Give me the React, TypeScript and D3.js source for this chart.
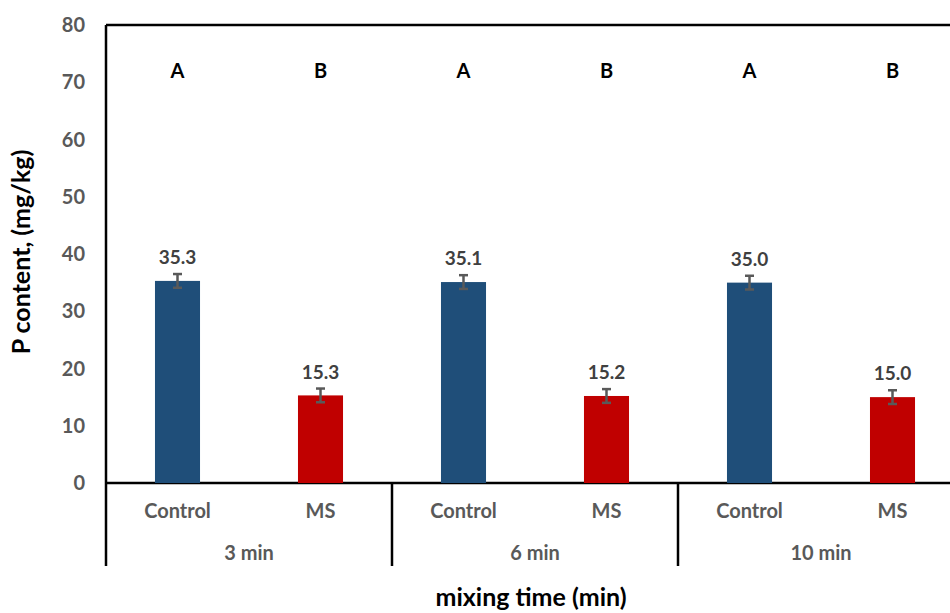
import React from "react";
import * as d3 from "d3";

const groups = ["3 min", "6 min", "10 min"];
const treatments = ["Control", "MS"];
const controlValues = [35.3, 35.1, 35.0];
const msValues = [15.3, 15.2, 15.0];
const controlErr = [1.2, 1.2, 1.2];
const msErr = [1.2, 1.2, 1.2];
const letters = ["A", "B", "A", "B", "A", "B"];
const letterY = 72;
const yTicks = [0, 10, 20, 30, 40, 50, 60, 70, 80];

const W = 950;
const H = 613;
const left = 106;
const top = 25;
const bottom = 483;
const right = 964;
const font = "Lato, 'Open Sans', sans-serif";
const gray = "#595959";

function App() {
  const rows = groups.flatMap((g, i) => [
    { key: `${g}-Control`, group: g, t: treatments[0], v: controlValues[i], e: controlErr[i], color: "#1F4E79" },
    { key: `${g}-MS`, group: g, t: treatments[1], v: msValues[i], e: msErr[i], color: "#C00000" },
  ]);

  const x = d3.scaleBand().domain(rows.map((r) => r.key)).range([left, right]).paddingInner(0.685).paddingOuter(0.3425);
  const xCat = d3.scaleBand().domain(rows.map((r) => r.key)).range([left, right]);
  const xGroup = d3.scaleBand().domain(groups).range([left, right]);
  const y = d3.scaleLinear().domain([0, 80]).range([bottom, top]);

  return (
    <svg width={W} height={H} style={{ display: "block", position: "absolute", left: 0, top: 0 }} fontFamily={font}>
      <rect width={W} height={H} fill="#fff" />
      {/* frame */}
      <line x1={left} x2={right} y1={top} y2={top} stroke="#000" strokeWidth={2.5} />
      <line x1={left} x2={left} y1={top} y2={566} stroke="#000" strokeWidth={2.5} />
      <line x1={left} x2={right} y1={bottom} y2={bottom} stroke="#000" strokeWidth={2.5} />
      {groups.slice(1).map((g) => (
        <line key={g} x1={xGroup(g)} x2={xGroup(g)} y1={bottom} y2={566} stroke="#000" strokeWidth={2.5} />
      ))}
      {/* y ticks */}
      {yTicks.map((t) => (
        <text key={t} x={85} y={y(t)} dy="0.35em" textAnchor="end" fontSize={20} fontWeight="bold" fill={gray}>
          {t}
        </text>
      ))}
      {/* bars */}
      {rows.map((r, i) => {
        const cx = x(r.key)! + x.bandwidth() / 2;
        return (
          <g key={r.key}>
            <rect x={x(r.key)} y={y(r.v)} width={x.bandwidth()} height={y(0) - y(r.v)} fill={r.color} />
            <line x1={cx} x2={cx} y1={y(r.v + r.e)} y2={y(r.v - r.e)} stroke={gray} strokeWidth={2.5} />
            <line x1={cx - 4.5} x2={cx + 4.5} y1={y(r.v + r.e)} y2={y(r.v + r.e)} stroke={gray} strokeWidth={2.5} />
            <line x1={cx - 4.5} x2={cx + 4.5} y1={y(r.v - r.e)} y2={y(r.v - r.e)} stroke={gray} strokeWidth={2.5} />
            <text x={cx} y={y(r.v + r.e) - 10} textAnchor="middle" fontSize={19} fontWeight="bold" fill="#404040">
              {r.v.toFixed(1)}
            </text>
            <text x={cx} y={y(letterY)} dy="0.35em" textAnchor="middle" fontSize={20} fontWeight="bold" fill="#000">
              {letters[i]}
            </text>
            <text x={xCat(r.key)! + xCat.bandwidth() / 2} y={511} dy="0.35em" textAnchor="middle" fontSize={20} fontWeight="bold" fill={gray}>
              {r.t}
            </text>
          </g>
        );
      })}
      {groups.map((g) => (
        <text key={g} x={xGroup(g)! + xGroup.bandwidth() / 2} y={553} dy="0.35em" textAnchor="middle" fontSize={20} fontWeight="bold" fill={gray}>
          {g}
        </text>
      ))}
      <text x={531} y={597} dy="0.35em" textAnchor="middle" fontSize={25} fontWeight="bold" fill="#000">
        mixing time (min)
      </text>
      <text transform={`translate(21,252) rotate(-90)`} dy="0.35em" textAnchor="middle" fontSize={25} fontWeight="bold" fill="#000">
        P content, (mg/kg)
      </text>
    </svg>
  );
}

export default App;
